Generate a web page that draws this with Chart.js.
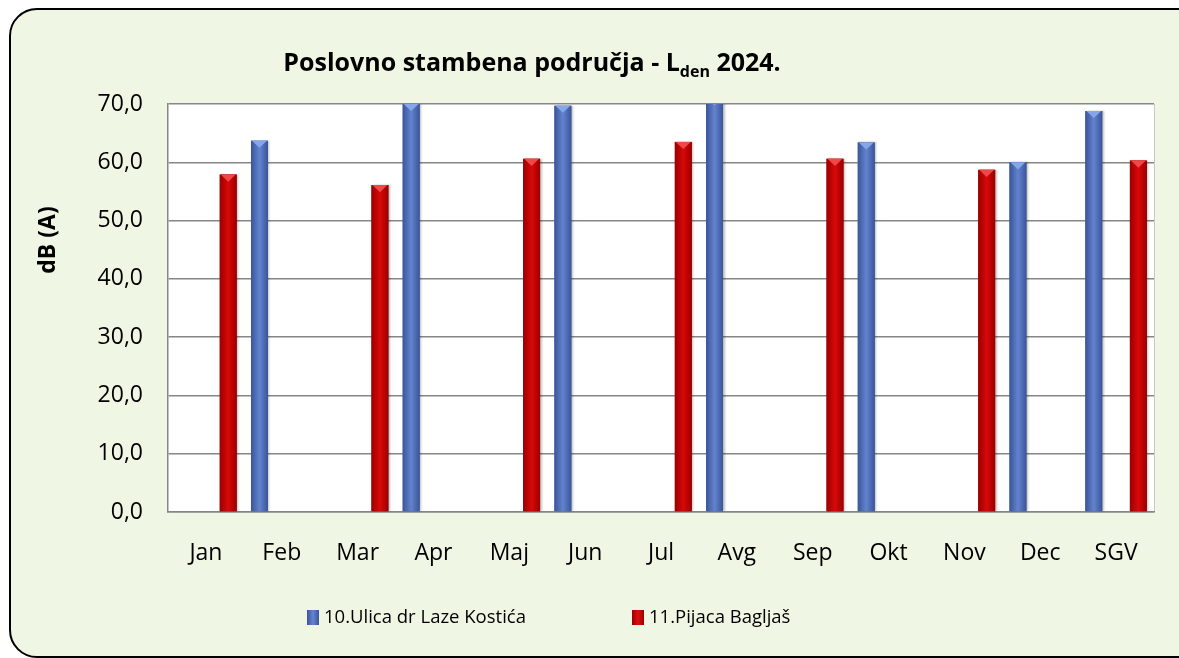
<!DOCTYPE html>
<html lang="sr">
<head>
<meta charset="UTF-8">
<title>Poslovno stambena područja - Lden 2024.</title>
<script src="https://cdn.jsdelivr.net/npm/chart.js@4/dist/chart.umd.min.js"></script>
<style>
	body { margin: 0; background: #fff; overflow: hidden; font-family: "Open Sans", sans-serif; }
	#wrap { position: relative; width: 1179px; height: 658px; overflow: hidden; }
	#frame { position: absolute; left: 9px; top: 8px; width: 1200px; height: 650px; box-sizing: border-box;
		border: 2px solid #000; border-radius: 28px; background: #eff6e3; }
	#chart { position: absolute; left: 0; top: 0; }
	.leg { position: absolute; top: 600px; font-size: 18.5px; color: #000; white-space: nowrap; line-height: 32px; }
	.leg i { display: inline-block; width: 12px; height: 15px; vertical-align: -2px; margin-right: 5px; }
</style>
</head>
<body>
<div id="wrap">
	<div id="frame"></div>
	<canvas id="chart" width="1179" height="658"></canvas>
	<div class="leg" style="left:307px"><i style="background:linear-gradient(90deg,#3a5599,#6585d0,#3a5599)"></i>10.Ulica dr Laze Kostića</div>
	<div class="leg" style="left:632px"><i style="background:linear-gradient(90deg,#9a0000,#dd1010,#9a0000)"></i>11.Pijaca Bagljaš</div>
</div>
<script>
// months + yearly average (SGV)
const categories = ['Jan', 'Feb', 'Mar', 'Apr', 'Maj', 'Jun', 'Jul', 'Avg', 'Sep', 'Okt', 'Nov', 'Dec', 'SGV'];
// 10.Ulica dr Laze Kostića (measured every second month)
const ulicaValues = [null, 63.7, null, 70.0, null, 69.7, null, 71.0, null, 63.4, null, 60.0, 68.8];
// 11.Pijaca Bagljaš
const pijacaValues = [57.9, null, 56.1, null, 60.6, null, 63.5, null, 60.6, null, 58.7, null, 60.3];
const yTicks = [0, 10, 20, 30, 40, 50, 60, 70];

const FONT = '"Open Sans", sans-serif';

// white plot area
const plotBg = {
	id: 'plotBg',
	beforeDraw(chart) {
		const { ctx, chartArea: a } = chart;
		ctx.save();
		ctx.fillStyle = '#fff';
		ctx.fillRect(a.left, a.top, a.right - a.left, a.bottom - a.top);
		ctx.strokeStyle = '#c8c8c8';
		ctx.beginPath();
		ctx.moveTo(a.right + 0.5, a.top);
		ctx.lineTo(a.right + 0.5, a.bottom);
		ctx.stroke();
		ctx.restore();
	}
};

// shaded bars with the small triangle on top, like the excel bevel
const bevel = {
	id: 'bevel',
	afterDatasetsDraw(chart) {
		const { ctx, chartArea: a } = chart;
		ctx.save();
		ctx.beginPath();
		ctx.rect(a.left, a.top, a.right - a.left, a.bottom - a.top);
		ctx.clip();
		chart.data.datasets.forEach((ds, di) => {
			const meta = chart.getDatasetMeta(di);
			meta.data.forEach((bar, i) => {
				if(ds.data[i] == null) return;
				const { x, y, base, width } = bar.getProps(['x', 'y', 'base', 'width'], true);
				const l = x - width / 2, r = x + width / 2;
				ctx.shadowColor = 'rgba(0,0,0,0.25)';
				ctx.shadowOffsetX = 1.5;
				ctx.shadowBlur = 2;
				const g = ctx.createLinearGradient(l, 0, r, 0);
				g.addColorStop(0, ds.edgeColor);
				g.addColorStop(0.5, ds.midColor);
				g.addColorStop(1, ds.edgeColor);
				ctx.fillStyle = g;
				ctx.fillRect(l, y, width, base - y);
				ctx.shadowColor = 'transparent';
				ctx.fillStyle = ds.capColor;
				ctx.beginPath();
				ctx.moveTo(l + 1, y);
				ctx.lineTo(r - 1, y);
				ctx.lineTo(x, y + width * 0.42);
				ctx.closePath();
				ctx.fill();
			});
		});
		ctx.restore();
	}
};

// title with subscript + rotated axis title
const texts = {
	id: 'texts',
	afterDraw(chart) {
		const ctx = chart.ctx;
		ctx.save();
		ctx.fillStyle = '#000';
		ctx.textBaseline = 'alphabetic';
		const big = 'bold 25px ' + FONT, small = 'bold 16px ' + FONT;
		const p1 = 'Poslovno stambena područja - L', p2 = 'den', p3 = ' 2024.';
		ctx.font = big;
		const w1 = ctx.measureText(p1).width, w3 = ctx.measureText(p3).width;
		ctx.font = small;
		const w2 = ctx.measureText(p2).width;
		let x = 532 - (w1 + w2 + w3) / 2;
		const baseY = 71;
		ctx.font = big;
		ctx.fillText(p1, x, baseY);
		x += w1;
		ctx.font = small;
		ctx.fillText(p2, x, baseY + 6);
		x += w2;
		ctx.font = big;
		ctx.fillText(p3, x, baseY);

		ctx.translate(48, 240);
		ctx.rotate(-Math.PI / 2);
		ctx.font = 'bold 23px ' + FONT;
		ctx.textAlign = 'center';
		ctx.textBaseline = 'middle';
		ctx.fillText('dB (A)', 0, 0);
		ctx.restore();
	}
};

new Chart(document.getElementById('chart'), {
	type: 'bar',
	data: {
		labels: categories,
		datasets: [{
			label: '10.Ulica dr Laze Kostića',
			data: ulicaValues,
			backgroundColor: '#4c6cb8',
			midColor: '#6383cf',
			edgeColor: '#3a5599',
			capColor: '#86a6ea',
			categoryPercentage: 1.176,
			barPercentage: 0.38
		}, {
			label: '11.Pijaca Bagljaš',
			data: pijacaValues,
			backgroundColor: '#c00000',
			midColor: '#d90808',
			edgeColor: '#9a0000',
			capColor: '#f04848',
			categoryPercentage: 1.176,
			barPercentage: 0.38
		}]
	},
	options: {
		responsive: false,
		animation: false,
		layout: { padding: { left: 0, top: 104, right: 25, bottom: 0 } },
		plugins: {
			legend: { display: false },
			title: { display: false },
			tooltip: { enabled: false }
		},
		scales: {
			x: {
				afterFit(s) { s.height = 146; },
				grid: { display: false },
				border: { display: true, color: '#868686', width: 1.5 },
				ticks: { color: '#000', padding: 20, font: { family: FONT, size: 23 }, maxRotation: 0, autoSkip: false }
			},
			y: {
				min: 0,
				max: 70,
				afterFit(s) { s.width = 168; },
				afterBuildTicks(s) { s.ticks = yTicks.map(v => ({ value: v })); },
				grid: { color: '#868686', lineWidth: 1.5, drawTicks: false },
				border: { display: true, color: '#868686', width: 1.5 },
				ticks: {
					color: '#000',
					padding: 25,
					font: { family: FONT, size: 23 },
					callback: v => v.toFixed(1).replace('.', ',')
				}
			}
		}
	},
	plugins: [plotBg, bevel, texts]
});
</script>
</body>
</html>
